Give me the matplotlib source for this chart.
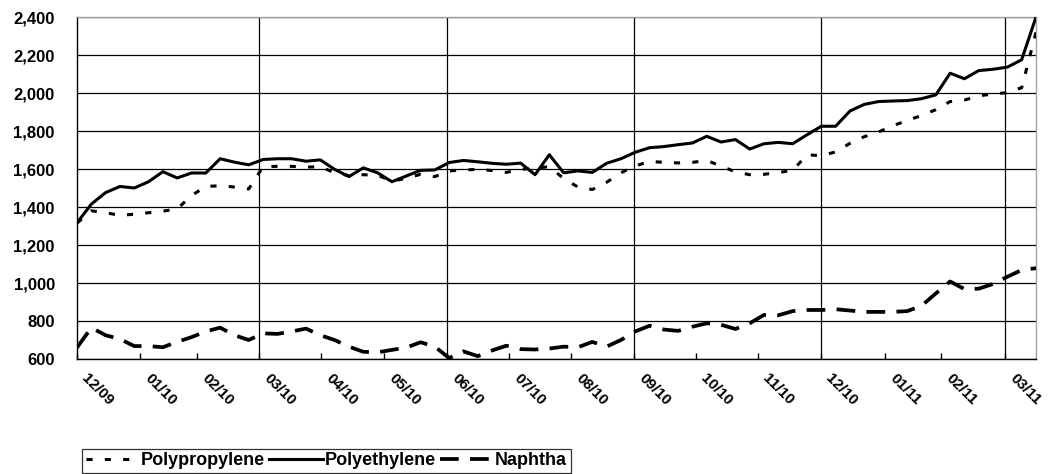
import matplotlib
matplotlib.use("Agg")
import matplotlib.pyplot as plt
import matplotlib.transforms as mtransforms
import numpy as np

# ---- data (weekly observations, Dec 2009 - Mar 2011) ----
polypropylene = [1315, 1380, 1370, 1356, 1362, 1370, 1378, 1390, 1460, 1508,
                 1512, 1505, 1495, 1612, 1614, 1614, 1610, 1612, 1580, 1565,
                 1570, 1567, 1537, 1550, 1572, 1560, 1590, 1595, 1598, 1592,
                 1582, 1598, 1605, 1612, 1550, 1505, 1492, 1530, 1580, 1616,
                 1640, 1635, 1632, 1635, 1645, 1615, 1585, 1570, 1572, 1582,
                 1592, 1675, 1670, 1690, 1735, 1770, 1795, 1828, 1855, 1882,
                 1912, 1955, 1963, 1985, 1995, 2002, 2028, 2320]
polyethylene = [1317, 1415, 1476, 1508, 1500, 1533, 1586, 1553, 1579, 1579,
                1654, 1636, 1622, 1650, 1654, 1654, 1641, 1648, 1598, 1560,
                1606, 1580, 1533, 1563, 1593, 1595, 1634, 1645, 1638, 1630,
                1625, 1631, 1570, 1675, 1580, 1590, 1582, 1630, 1654, 1688,
                1712, 1718, 1728, 1737, 1772, 1742, 1755, 1705, 1733, 1740,
                1733, 1780, 1825, 1825, 1905, 1940, 1955, 1958, 1960, 1970,
                1990, 2104, 2075, 2118, 2125, 2136, 2175, 2400]
naphtha = [660, 765, 725, 705, 668, 668, 662, 690, 715, 745,
           765, 725, 700, 735, 732, 745, 760, 725, 700, 665,
           638, 635, 648, 660, 688, 665, 605, 640, 615, 645,
           670, 652, 650, 655, 665, 662, 690, 665, 700, 745,
           775, 755, 748, 770, 788, 780, 758, 788, 832, 830,
           852, 858, 858, 862, 855, 848, 848, 848, 852, 880,
           945, 1008, 968, 970, 995, 1033, 1068, 1078]
month_labels = ["12/09", "01/10", "02/10", "03/10", "04/10", "05/10", "06/10",
                "07/10", "08/10", "09/10", "10/10", "11/10", "12/10", "01/11",
                "02/11", "03/11"]
# month-start positions on the weekly axis
month_pos = [0, 4.40, 8.38, 12.72, 17.05, 21.45, 25.85, 30.18, 34.51, 38.92,
             43.25, 47.58, 51.98, 56.45, 60.37, 64.84]
quarter_idx = [3, 6, 9, 12, 15]

plt.rcParams['font.family'] = ['Liberation Sans', 'DejaVu Sans']

W, H = 1049, 474
fig = plt.figure(figsize=(W / 100, H / 100), dpi=100)
ax = fig.add_axes([77 / W, 1 - 359 / H, (1036 - 77) / W, (359 - 17) / H])

x = np.arange(len(polyethylene))
l_pp, = ax.plot(x, polypropylene, color='black', lw=2.2, dashes=(2.0, 4.0),
                dash_capstyle='butt', label='Polypropylene', zorder=3)
l_pe, = ax.plot(x, polyethylene, color='black', lw=2.2, label='Polyethylene', zorder=4)
l_na, = ax.plot(x, naphtha, color='black', lw=2.7, dashes=(5.0, 3.0),
                dash_capstyle='butt', label='Naphtha', zorder=3)

ax.set_xlim(0, len(polyethylene) - 1)
ax.set_ylim(600, 2400)
ax.set_yticks(np.arange(600, 2401, 200))
ax.set_yticklabels([f"{v:,}" for v in range(600, 2401, 200)])
ax.yaxis.grid(True, color='black', lw=0.9)
ax.set_axisbelow(True)

ax.set_xticks(month_pos)
ax.set_xticklabels(month_labels, rotation=-45, ha='left', va='top',
                   rotation_mode='anchor')
for i in quarter_idx:
    ax.axvline(month_pos[i], color='black', lw=0.9, zorder=1)

ax.tick_params(axis='y', length=0, pad=16, labelsize=12)
ax.tick_params(axis='x', direction='in', length=4, width=1, pad=9,
               labelsize=11)
shift = mtransforms.ScaledTranslation(0.12, 0, fig.dpi_scale_trans)
for lab in ax.get_xticklabels():
    lab.set_fontweight('bold')
    lab.set_transform(lab.get_transform() + shift)
for lab in ax.get_yticklabels():
    lab.set_fontweight('bold')

for s in ['left', 'bottom']:
    ax.spines[s].set_color('black')
    ax.spines[s].set_linewidth(1)
for s in ['top', 'right']:
    ax.spines[s].set_color('#a0a0a0')
    ax.spines[s].set_linewidth(1)

leg = fig.legend(handles=[l_pp, l_pe, l_na], loc='lower left',
                 bbox_to_anchor=(82 / W, 1 / H), ncol=3, frameon=True,
                 fancybox=False, handlelength=3.0, handletextpad=0.05,
                 columnspacing=0.25, borderpad=0.2, borderaxespad=0,
                 prop={'weight': 'bold', 'size': 13})
leg.get_frame().set_edgecolor('black')
leg.get_frame().set_linewidth(0.9)

fig.savefig('out.png', dpi=100)
